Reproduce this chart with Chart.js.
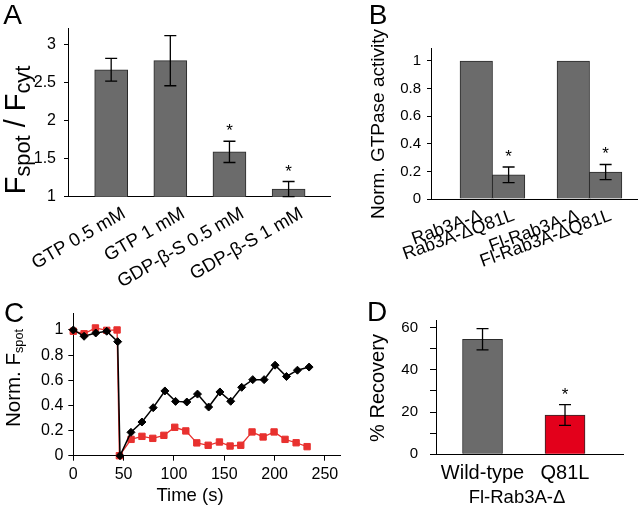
<!DOCTYPE html>
<html><head><meta charset="utf-8">
<script src="https://cdn.jsdelivr.net/npm/chart.js@4"></script>
<style>
html,body{margin:0;padding:0;background:#fff;}
#wrap{position:relative;width:640px;height:509px;overflow:hidden;font-family:"Liberation Sans",Arial,sans-serif;color:#000;}
canvas{position:absolute;left:0;top:0;}
.t{position:absolute;white-space:nowrap;line-height:1;}
.rot{transform:translate(-50%,-50%) rotate(-90deg);}
.ctr{transform:translate(-50%,-50%);}
.letter{font-size:28px;}
sub{vertical-align:-0.25em;line-height:0;}
</style></head>
<body><div id="wrap">
<canvas id="cA" width="640" height="509" style="width:640px;height:509px"></canvas>
<canvas id="cB" width="640" height="509" style="width:640px;height:509px"></canvas>
<canvas id="cC" width="640" height="509" style="width:640px;height:509px"></canvas>
<canvas id="cD" width="640" height="509" style="width:640px;height:509px"></canvas>
<div class="t ctr letter" style="left:12.5px;top:15px">A</div>
<div class="t ctr letter" style="left:378px;top:15px">B</div>
<div class="t ctr letter" style="left:14px;top:312.5px">C</div>
<div class="t ctr letter" style="left:377px;top:312px">D</div>
<div class="t rot" style="left:15px;top:130px;font-size:29px">F<sub style="font-size:75%">spot</sub> / F<sub style="font-size:75%">cyt</sub></div>
<div class="t rot" style="left:377px;top:124px;font-size:19px">Norm. GTPase activity</div>
<div class="t rot" style="left:13px;top:378px;font-size:20.5px">Norm. F<sub style="font-size:62%">spot</sub></div>
<div class="t ctr" style="left:190px;top:495px;font-size:18.5px">Time (s)</div>
<div class="t rot" style="left:377px;top:388px;font-size:20px">% Recovery</div>
<div class="t ctr" style="left:517px;top:497px;font-size:18.5px">Fl-Rab3A-Δ</div>
</div>
<script>
// ---------- data ----------
const catsA = ['GTP 0.5 mM', 'GTP 1 mM', 'GDP-β-S 0.5 mM', 'GDP-β-S 1 mM'];
const valsA = [2.67, 2.79, 1.59, 1.10];
const errA  = [0.15, 0.33, 0.14, 0.10];
const sigA  = [false, false, true, true];
const ticksA = [1, 1.5, 2, 2.5, 3];

const catsB = ['Rab3A-Δ', 'Rab3A-ΔQ81L', 'Fl-Rab3A-Δ', 'Fl-Rab3A-ΔQ81L'];
const valsB = [1, 0.175, 1, 0.195];
const errB  = [0, 0.057, 0, 0.055];
const sigB  = [false, true, false, true];
const ticksB = [0, 0.2, 0.4, 0.6, 0.8, 1];

const timeBlack = [0, 10.7, 22.3, 33.2, 44.1, 46.4, 57.3, 68.2, 79.4, 91, 101.6, 112.8, 123.4, 134.5, 145.7, 156.4, 167.3, 178.3, 189.6, 200.5, 211.8, 222.7, 234.3];
const valsBlack = [1.0, 0.95, 0.976, 0.99, 0.907, 0.0, 0.186, 0.268, 0.382, 0.515, 0.432, 0.427, 0.49, 0.387, 0.507, 0.433, 0.544, 0.605, 0.605, 0.72, 0.63, 0.68, 0.705];
const timeRed = [0, 10.7, 22, 33.2, 43.5, 45.8, 57.4, 68.2, 79, 90, 100.8, 111.8, 122.7, 134, 145.2, 155.8, 166.4, 177.6, 188.6, 199.5, 210.4, 221.4, 232.3];
const valsRed = [0.99, 0.97, 1.016, 0.997, 1.0, 0.0, 0.13, 0.154, 0.138, 0.162, 0.226, 0.197, 0.102, 0.083, 0.109, 0.077, 0.083, 0.189, 0.149, 0.189, 0.13, 0.103, 0.072];
const ticksCx = [0, 50, 100, 150, 200, 250];
const ticksCy = [0, 0.2, 0.4, 0.6, 0.8, 1];

const catsD = ['Wild-type', 'Q81L'];
const valsD = [54.5, 18.6];
const errD  = [5.0, 4.9];
const sigD  = [false, true];
const ticksD = [0, 10, 20, 30, 40, 50, 60];

// ---------- style ----------
const GRAY = '#6b6b6b', EDGE = '#2a2a2a', RED = '#e3001b', LRED = '#e8312f';
const FONT = '"Liberation Sans", Arial, sans-serif';
Chart.defaults.font.family = FONT;
Chart.defaults.color = '#000';
Chart.defaults.animation = false;

const errorBarPlugin = {
  id: 'errbars',
  afterDatasetsDraw(chart, args, opts) {
    if (!opts || !opts.errs) return;
    const meta = chart.getDatasetMeta(0);
    const ys = chart.scales.y, ctx = chart.ctx;
    const data = chart.data.datasets[0].data;
    ctx.save();
    ctx.strokeStyle = '#000'; ctx.lineWidth = 1.3; ctx.fillStyle = '#000';
    meta.data.forEach((bar, i) => {
      const v = data[i].y, e = opts.errs[i], x = bar.x;
      const yt = ys.getPixelForValue(v + e), yb = ys.getPixelForValue(v - e);
      if (e > 0) {
        ctx.beginPath();
        ctx.moveTo(x, yt); ctx.lineTo(x, yb);
        ctx.moveTo(x - 6, yt); ctx.lineTo(x + 6, yt);
        ctx.moveTo(x - 6, yb); ctx.lineTo(x + 6, yb);
        ctx.stroke();
      }
      if (opts.sig[i]) {
        ctx.font = '17px ' + FONT; ctx.textAlign = 'center'; ctx.textBaseline = 'alphabetic';
        ctx.fillText('*', x, yt - 5);
      }
    });
    ctx.restore();
  }
};

function pad(l, t, r, b, yW, xH) {
  return {left: l - yW, top: t, right: 640 - r, bottom: 509 - b - xH};
}
function yAxis(min, max, ticks, w, size, tickLen, padding, cb) {
  return {
    type: 'linear', min, max,
    afterFit: s => { s.width = w; },
    afterBuildTicks: s => { s.ticks = ticks.map(v => ({value: v})); },
    grid: {drawOnChartArea: false, color: '#000', tickColor: '#000', tickLength: tickLen, lineWidth: 1},
    border: {color: '#000', width: 1},
    ticks: {font: {size}, padding, color: '#000', autoSkip: false, callback: cb || (v => String(v))}
  };
}
function xCatAxis(min, max, positions, labels, h, size, rot, padding, lo) {
  return {
    type: 'linear', min, max, offset: false,
    afterFit: s => { s.height = h; },
    afterBuildTicks: s => { s.ticks = positions.map(v => ({value: v})); },
    grid: {drawOnChartArea: false, drawTicks: false, color: 'transparent', offset: false},
    border: {color: '#000', width: 1},
    ticks: {font: {size}, autoSkip: false, minRotation: rot, maxRotation: rot, padding, labelOffset: lo, color: '#000',
      callback: v => labels[positions.indexOf(v)]}
  };
}
const common = {responsive: false, animation: false, events: [],
  plugins: {legend: {display: false}, tooltip: {enabled: false}}};

// ---------- A ----------
const posA = catsA.map((c, i) => i + 1);
new Chart(document.getElementById('cA'), {
  type: 'bar',
  data: {datasets: [{data: valsA.map((v, i) => ({x: posA[i], y: v})), backgroundColor: GRAY, borderColor: EDGE, borderWidth: 1, barThickness: 33}]},
  options: Object.assign({}, common, {
    layout: {padding: pad(68, 28, 330, 196.7, 50, 100)},
    scales: {
      x: xCatAxis(0.27, 4.70, posA, catsA, 100, 18.5, 30, 6, 13),
      y: yAxis(1, 3.22, ticksA, 50, 16, 4, 8)
    },
    plugins: Object.assign({}, common.plugins, {errbars: {errs: errA, sig: sigA}})
  }),
  plugins: [errorBarPlugin]
});

// ---------- B ----------
const posB = catsB.map((c, i) => i + 1 + (i >= 2 ? 1 : 0));
new Chart(document.getElementById('cB'), {
  type: 'bar',
  data: {datasets: [{data: valsB.map((v, i) => ({x: posB[i], y: v})), backgroundColor: GRAY, borderColor: EDGE, borderWidth: 1, barThickness: 32.5}]},
  options: Object.assign({}, common, {
    layout: {padding: pad(431, 48, 637, 199, 50, 85)},
    scales: {
      x: xCatAxis(-0.40, 5.97, posB, catsB, 85, 18, 20, 6, 5),
      y: yAxis(0, 1.094, ticksB, 50, 15, 4, 6)
    },
    plugins: Object.assign({}, common.plugins, {errbars: {errs: errB, sig: sigB}})
  }),
  plugins: [errorBarPlugin]
});

// ---------- C ----------
new Chart(document.getElementById('cC'), {
  type: 'line',
  data: {datasets: [
    {data: timeBlack.map((t, i) => ({x: t, y: valsBlack[i]})), borderColor: '#000', backgroundColor: '#000',
     borderWidth: 1.5, pointStyle: 'rectRot', pointRadius: 4, pointBorderWidth: 1, tension: 0, clip: false},
    {data: timeRed.map((t, i) => ({x: t, y: valsRed[i]})), borderColor: LRED, backgroundColor: LRED,
     borderWidth: 1.3, pointStyle: 'rect', pointRadius: 4.5, pointBorderWidth: 1, tension: 0, clip: false}
  ]},
  options: Object.assign({}, common, {
    layout: {padding: pad(73.3, 313.5, 340, 455.7, 50, 30)},
    scales: {
      x: {type: 'linear', min: 0, max: 265,
        afterFit: s => { s.height = 30; },
        afterBuildTicks: s => { s.ticks = ticksCx.map(v => ({value: v})); },
        grid: {drawOnChartArea: false, color: '#000', tickColor: '#000', tickLength: 5},
        border: {color: '#000', width: 1},
        ticks: {font: {size: 16}, padding: 4, color: '#000', autoSkip: false, maxRotation: 0, callback: v => String(v)}},
      y: yAxis(0, 1.131, ticksCy, 50, 16, 5, 5)
    }
  })
});

// ---------- D ----------
const posD = catsD.map((c, i) => i + 1);
new Chart(document.getElementById('cD'), {
  type: 'bar',
  data: {datasets: [{data: valsD.map((v, i) => ({x: posD[i], y: v})), backgroundColor: [GRAY, RED], borderColor: EDGE, borderWidth: 1, barThickness: 40}]},
  options: Object.assign({}, common, {
    layout: {padding: pad(436, 320.7, 623, 454.3, 60, 30)},
    scales: {
      x: xCatAxis(0.436, 2.703, posD, catsD, 30, 20, 0, 7, 0),
      y: yAxis(0, 63.3, ticksD, 60, 15, 6, 12, v => (v % 20 === 0 ? String(v) : ''))
    },
    plugins: Object.assign({}, common.plugins, {errbars: {errs: errD, sig: sigD}})
  }),
  plugins: [errorBarPlugin]
});
</script>
</body></html>
